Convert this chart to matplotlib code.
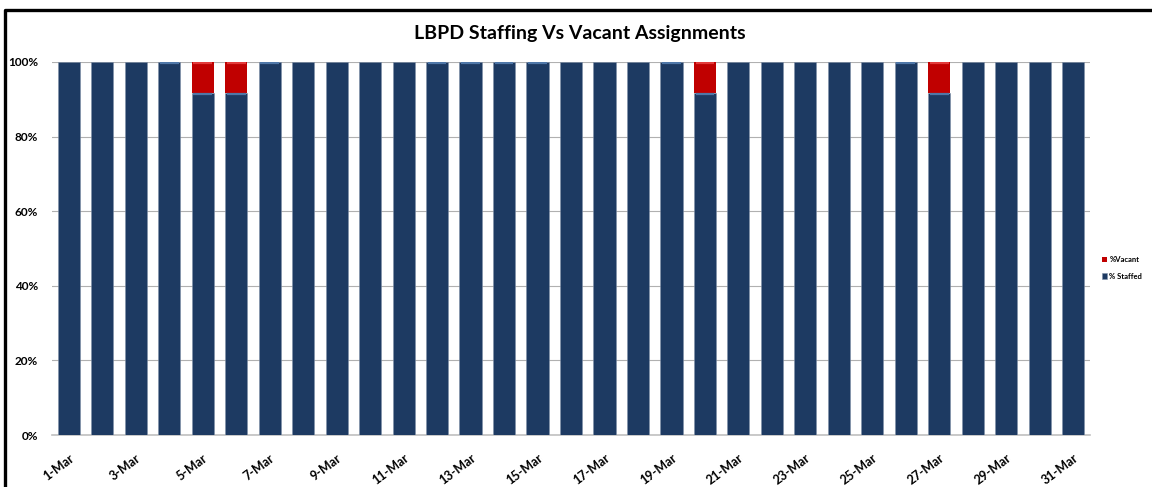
import matplotlib.pyplot as plt
import matplotlib.transforms as mtransforms
import numpy as np
from matplotlib.lines import Line2D

# Days of March and staffing percentages
days = [f"{d}-Mar" for d in range(1, 32)]
staffed = [100, 100, 100, 100, 91.7, 91.7, 100, 100, 100, 100,
           100, 100, 100, 100, 100, 100, 100, 100, 100, 91.7,
           100, 100, 100, 100, 100, 100, 91.7, 100, 100, 100, 100]
vacant = [0, 0, 0, 0, 8.3, 8.3, 0, 0, 0, 0,
          0, 0, 0, 0, 0, 0, 0, 0, 0, 8.3,
          0, 0, 0, 0, 0, 0, 8.3, 0, 0, 0, 0]
# days whose staffed bar shows a bevel highlight on top
bevel_days = ["4-Mar", "5-Mar", "6-Mar", "7-Mar", "12-Mar", "13-Mar", "14-Mar",
              "15-Mar", "19-Mar", "20-Mar", "26-Mar", "27-Mar"]

navy = "#1d3a62"
red = "#c00000"

plt.rcParams["font.family"] = ["Lato", "DejaVu Sans"]

fig = plt.figure(figsize=(11.52, 4.87), dpi=100)
ax = fig.add_axes([52 / 1152, 1 - 435 / 487, (1090 - 52) / 1152, (435 - 62) / 487])

x = np.arange(len(days))
w = 0.66
ax.bar(x, staffed, width=w, color=navy, edgecolor="#7f90a8", linewidth=0.4, zorder=3,
       label="% Staffed")
ax.bar(x, vacant, width=w, bottom=staffed, color=red, linewidth=0, zorder=3,
       label="%Vacant")

# bevel highlights on segment tops
for i, d in enumerate(days):
    if d in bevel_days:
        ax.plot([i - w / 2 + 0.05, i + w / 2 - 0.05], [staffed[i] - 0.4] * 2,
                color="#4f77a8", lw=1.6, zorder=4, solid_capstyle="butt")
    if vacant[i] > 0:
        ax.plot([i - w / 2 + 0.05, i + w / 2 - 0.05], [99.6] * 2,
                color="#e23a3a", lw=1.6, zorder=4, solid_capstyle="butt")

ax.set_xlim(-0.5, len(days) - 0.5)
ax.set_ylim(0, 100)
ax.set_yticks(np.arange(0, 101, 20))
ax.set_yticklabels([f"{v}%" for v in range(0, 101, 20)], fontsize=8.5, fontweight="bold")
ax.set_xticks(x[::2])
ax.set_xticklabels(days[::2], fontsize=9, fontweight="bold", rotation=37,
                   ha="right", rotation_mode="anchor")
# nudge date labels slightly to the right, like the original
offset = mtransforms.ScaledTranslation(5 / 100, 0, fig.dpi_scale_trans)
for lbl in ax.get_xticklabels():
    lbl.set_transform(lbl.get_transform() + offset)
ax.tick_params(axis="both", length=0)
ax.tick_params(axis="x", pad=12)
ax.tick_params(axis="y", pad=10)
ax.grid(axis="y", color="#b0b0b0", lw=0.8, zorder=0)
for s in ["top", "right", "left"]:
    ax.spines[s].set_visible(False)
ax.spines["bottom"].set_color("#c0c0c0")
ax.spines["bottom"].set_linewidth(1.2)

fig.text(580 / 1152, 1 - 33 / 487, "LBPD Staffing Vs Vacant Assignments",
         ha="center", va="center", fontsize=14, fontweight="bold")

handles, labels = ax.get_legend_handles_labels()
fig.legend(handles[::-1], labels[::-1], loc="center left",
           bbox_to_anchor=(1098 / 1152, 1 - 268 / 487), frameon=False,
           prop={"size": 5.5, "weight": "bold"}, handlelength=0.7, handleheight=0.7,
           handletextpad=0.3, labelspacing=1.2, borderpad=0)

# black frame around the chart (left and top)
fig.add_artist(Line2D([5 / 1152, 5 / 1152, 1], [0, 1 - 10 / 487, 1 - 10 / 487],
                      color="black", lw=2.4, transform=fig.transFigure))

plt.savefig("out.png", dpi=100)
